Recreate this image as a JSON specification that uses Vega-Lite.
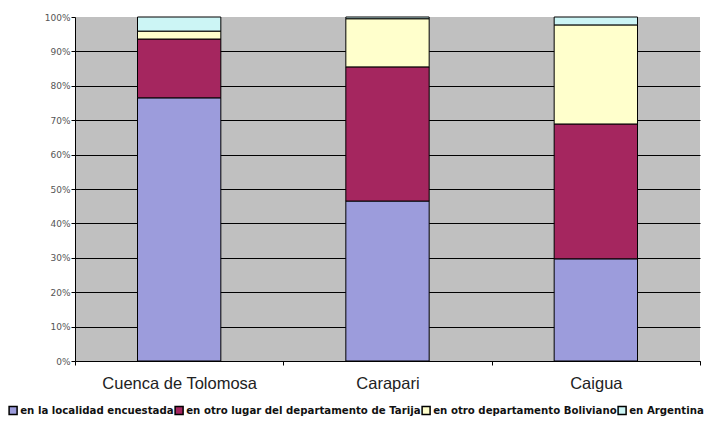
{
  "$schema": "https://vega.github.io/schema/vega-lite/v6.json",
  "width": 625,
  "height": 344,
  "autosize": "none",
  "padding": {"left": 75, "top": 17, "right": 11, "bottom": 65},
  "background": "white",
  "config": {"view": {"fill": "#c0c0c0", "stroke": null}},
  "data": {
    "values": [
      {"sitio": "Cuenca de Tolomosa", "destino": "en la localidad encuestada", "k": 1, "pct": 76.5},
      {"sitio": "Cuenca de Tolomosa", "destino": "en otro lugar del departamento de Tarija", "k": 2, "pct": 17.1},
      {"sitio": "Cuenca de Tolomosa", "destino": "en otro departamento Boliviano", "k": 3, "pct": 2.3},
      {"sitio": "Cuenca de Tolomosa", "destino": "en Argentina", "k": 4, "pct": 4.1},
      {"sitio": "Carapari", "destino": "en la localidad encuestada", "k": 1, "pct": 46.5},
      {"sitio": "Carapari", "destino": "en otro lugar del departamento de Tarija", "k": 2, "pct": 39.0},
      {"sitio": "Carapari", "destino": "en otro departamento Boliviano", "k": 3, "pct": 14.0},
      {"sitio": "Carapari", "destino": "en Argentina", "k": 4, "pct": 0.5},
      {"sitio": "Caigua", "destino": "en la localidad encuestada", "k": 1, "pct": 29.7},
      {"sitio": "Caigua", "destino": "en otro lugar del departamento de Tarija", "k": 2, "pct": 39.2},
      {"sitio": "Caigua", "destino": "en otro departamento Boliviano", "k": 3, "pct": 28.8},
      {"sitio": "Caigua", "destino": "en Argentina", "k": 4, "pct": 2.3}
    ]
  },
  "mark": {"type": "bar", "width": {"band": 0.4}, "stroke": "black", "strokeWidth": 1},
  "encoding": {
    "x": {
      "field": "sitio",
      "type": "nominal",
      "sort": ["Cuenca de Tolomosa", "Carapari", "Caigua"],
      "scale": {"paddingInner": 0, "paddingOuter": 0},
      "axis": {
        "title": null,
        "labelAngle": 0,
        "tickBand": "extent",
        "tickSize": 4,
        "tickColor": "black",
        "domainColor": "black",
        "labelFont": "Liberation Sans",
        "labelFontSize": 16.5,
        "labelColor": "#222222",
        "labelPadding": 10
      }
    },
    "y": {
      "field": "pct",
      "type": "quantitative",
      "stack": "zero",
      "scale": {"domain": [0, 100]},
      "axis": {
        "title": null,
        "values": [0, 10, 20, 30, 40, 50, 60, 70, 80, 90, 100],
        "labelExpr": "datum.value + '%'",
        "grid": true,
        "gridColor": "black",
        "gridOpacity": {"condition": {"test": "datum.value >= 100", "value": 0}, "value": 1},
        "domainColor": "black",
        "tickColor": "black",
        "tickSize": 4,
        "labelFont": "DejaVu Sans",
        "labelFontSize": 9,
        "labelColor": "#555555",
        "labelPadding": 1
      }
    },
    "color": {
      "field": "destino",
      "type": "nominal",
      "sort": ["en la localidad encuestada", "en otro lugar del departamento de Tarija", "en otro departamento Boliviano", "en Argentina"],
      "scale": {
        "domain": ["en la localidad encuestada", "en otro lugar del departamento de Tarija", "en otro departamento Boliviano", "en Argentina"],
        "range": ["#9c9cdc", "#a5265f", "#ffffcc", "#ccf5f5"]
      },
      "legend": {
        "title": null,
        "orient": "none",
        "legendX": -67,
        "legendY": 388,
        "direction": "horizontal",
        "symbolType": "square",
        "symbolSize": 64,
        "symbolStrokeColor": "black",
        "symbolStrokeWidth": 1.5,
        "labelFont": "DejaVu Sans",
        "labelFontSize": 10.2,
        "labelFontWeight": "bold",
        "labelColor": "#111111",
        "labelOffset": 2,
        "columnPadding": -6,
        "padding": 0,
        "labelLimit": 400
      }
    },
    "order": {"field": "k", "type": "quantitative"}
  }
}
